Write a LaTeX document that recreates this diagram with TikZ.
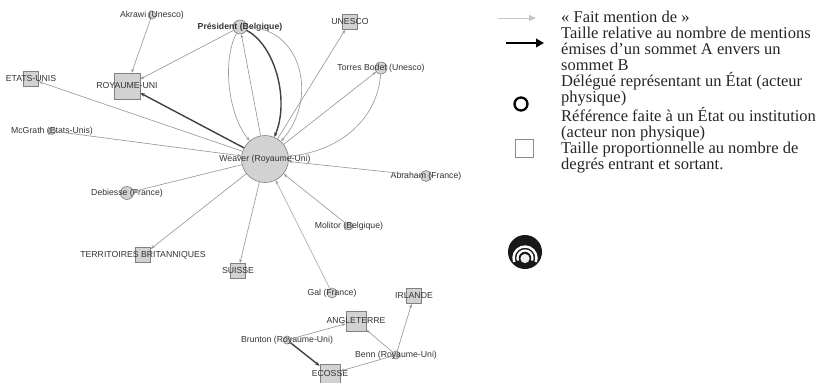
\documentclass[tikz,border=0pt]{standalone}
\usepackage{fontspec}
\setmainfont{Liberation Serif}
\newfontfamily\grafont{Liberation Sans}
\usetikzlibrary{arrows.meta}

\begin{document}
\begin{tikzpicture}[x=1pt,y=-1pt,
        pers/.style={circle,draw=gray!100,fill=gray!35,inner sep=0pt,line width=0.6pt},
        etat/.style={rectangle,draw=gray!100,fill=gray!35,inner sep=0pt,line width=0.6pt},
        lien/.style={draw=gray!80,line width=0.65pt,-{Stealth[length=4pt,width=3pt]}},
        fort/.style={draw=black!75,line width=1.4pt,-{Stealth[length=4.5pt,width=3.5pt]}},
        every label/.style={font=\grafont\fontsize{8.7}{9}\selectfont,text=black!80,inner sep=0pt}]
    \useasboundingbox (0,0) rectangle (820,383);

    % sommets : personnes
    \node[pers,minimum size=47pt,label=center:{Weaver (Royaume-Uni)}] (weaver) at (265,159) {};
    \node[pers,minimum size=14pt,label={[font=\grafont\bfseries\fontsize{8.7}{9}\selectfont]center:Président (Belgique)}] (pres) at (240,27) {};
    \node[pers,minimum size=8pt,label=center:{Akrawi (Unesco)}] (akrawi) at (152,15) {};
    \node[pers,minimum size=12pt,label=center:{Torres Bodet (Unesco)}] (torres) at (381,68) {};
    \node[pers,minimum size=7pt,label=center:{McGrath (Etats-Unis)}] (mcgrath) at (52,131) {};
    \node[pers,minimum size=11pt,label=center:{Abraham (France)}] (abraham) at (426,176) {};
    \node[pers,minimum size=13pt,label=center:{Debiesse (France)}] (debiesse) at (127,193) {};
    \node[pers,minimum size=8pt,label=center:{Molitor (Belgique)}] (molitor) at (349,226) {};
    \node[pers,minimum size=10pt,label=center:{Gal (France)}] (gal) at (332,293) {};
    \node[pers,minimum size=8pt,label=center:{Brunton (Royaume-Uni)}] (brunton) at (287,340) {};
    \node[pers,minimum size=8pt,label=center:{Benn (Royaume-Uni)}] (benn) at (396,355) {};

    % sommets : États et institutions
    \node[etat,minimum size=15pt,label=center:UNESCO] (unesco) at (350,22) {};
    \node[etat,minimum size=15pt,label=center:ETATS-UNIS] (eu) at (31,79) {};
    \node[etat,minimum size=26pt,label=center:ROYAUME-UNI] (ru) at (127,86) {};
    \node[etat,minimum size=15pt,label=center:TERRITOIRES BRITANNIQUES] (tb) at (143,255) {};
    \node[etat,minimum size=15pt,label=center:SUISSE] (suisse) at (238,271) {};
    \node[etat,minimum size=15pt,label=center:IRLANDE] (irlande) at (414,296) {};
    \node[etat,minimum size=20pt,label=center:ANGLETERRE] (angleterre) at (356,321) {};
    \node[etat,minimum size=20pt,label=center:ECOSSE] (ecosse) at (330,374) {};

    % mentions
    \foreach \a/\b in {akrawi/ru,pres/ru,weaver/eu,mcgrath/weaver,weaver/debiesse,
            weaver/tb,weaver/suisse,gal/weaver,molitor/weaver,abraham/weaver,
            weaver/unesco,weaver/torres,weaver/pres,brunton/angleterre,
            benn/angleterre,benn/irlande,benn/ecosse}{
        \draw[lien] (\a) -- (\b);
    }
    \draw[fort] (weaver) -- (ru);
    \draw[fort] (brunton) -- (ecosse);
    \draw[fort] (pres) .. controls (275,45) and (290,100) .. (weaver);
    \draw[lien] (pres) .. controls (222,60) and (228,115) .. (weaver);
    \draw[lien] (pres) .. controls (303,28) and (318,100) .. (weaver);
    \draw[lien] (torres) .. controls (378,115) and (345,150) .. (weaver);

    % légende
    \coordinate (g1) at (498,18);
    \coordinate (g2) at (536,18);
    \coordinate (n1) at (506,43);
    \coordinate (n2) at (544,43);
    \draw[gray!45,line width=1pt,-{Triangle[length=7pt,width=6pt]}] (g1) -- (g2);
    \draw[black,line width=2.3pt,-{Triangle[length=8pt,width=8.5pt]}] (n1) -- (n2);
    \node[circle,draw=black,line width=2.3pt,minimum size=13pt,inner sep=0pt] (lgrond) at (521,104) {};
    \node[draw=gray!90,line width=0.7pt,minimum size=18pt,inner sep=0pt] (lgcarre) at (524,148) {};
    \node[anchor=north west,align=left,inner sep=0pt,text=black!85,
        font=\fontsize{16.5}{16.1}\selectfont] (lgtexte) at (561,10.5) {%
        « Fait mention de »\\
        Taille relative au nombre de mentions\\
        émises d’un sommet A envers un\\
        sommet B\\
        Délégué représentant un État (acteur\\
        physique)\\
        Référence faite à un État ou institution\\
        (acteur non physique)\\
        Taille proportionnelle au nombre de\\
        degrés entrant et sortant.};

    % pictogramme
    \fill[black!90] (525,252) circle (17);
    \draw[white,line width=2.4pt] ([shift={(160:11.5)}]525,258) arc[start angle=160,end angle=380,radius=11.5];
    \draw[white,line width=2.2pt] ([shift={(160:7.5)}]525,258) arc[start angle=160,end angle=380,radius=7.5];
    \fill[gray!12] (525,258.5) circle (4.6);
\end{tikzpicture}
\end{document}
